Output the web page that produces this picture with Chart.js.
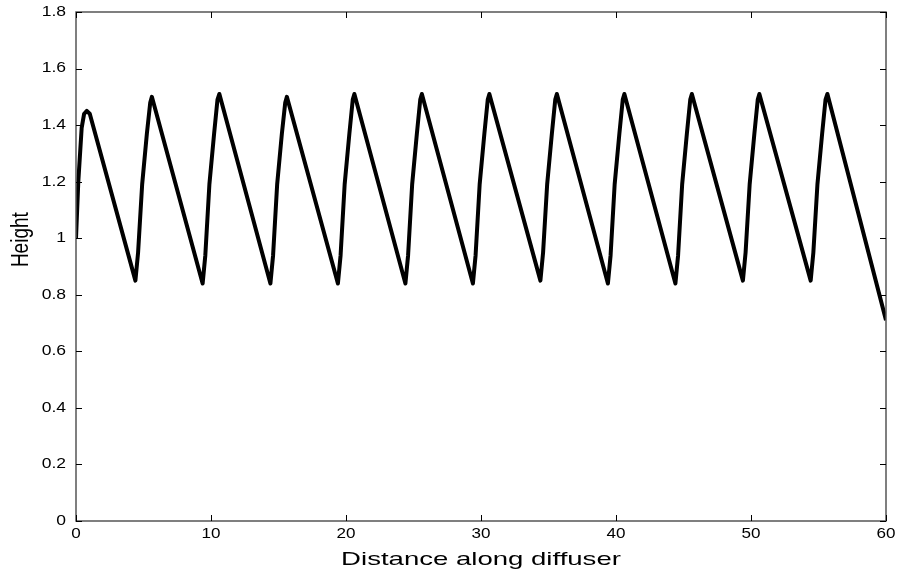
<!DOCTYPE html>
<html>
<head>
<meta charset="utf-8">
<script src="https://cdn.jsdelivr.net/npm/chart.js@4/dist/chart.umd.min.js"></script>
<style>
  html, body { margin: 0; padding: 0; background: #fff; }
  #wrap { width: 900px; height: 569px; }
</style>
</head>
<body>
<div id="wrap"><canvas id="diffuser"></canvas></div>
<script>
// distance along diffuser (x) and height (y)
distance = [0, 0.17, 0.42, 0.6, 0.8, 1.02,
  4.4, 4.6, 4.9, 5.25, 5.5, 5.62,
  9.38, 9.58, 9.88, 10.23, 10.48, 10.62,
  14.4, 14.6, 14.9, 15.25, 15.5, 15.62,
  19.4, 19.6, 19.9, 20.25, 20.5, 20.62,
  24.4, 24.6, 24.9, 25.25, 25.5, 25.62,
  29.4, 29.6, 29.9, 30.25, 30.5, 30.62,
  34.4, 34.6, 34.9, 35.25, 35.5, 35.62,
  39.4, 39.6, 39.9, 40.25, 40.5, 40.62,
  44.4, 44.6, 44.9, 45.25, 45.5, 45.62,
  49.4, 49.6, 49.9, 50.25, 50.5, 50.62,
  54.42, 54.62, 54.92, 55.27, 55.52, 55.66,
  60]
height = [1.0, 1.2, 1.39, 1.44, 1.45, 1.44,
  0.85, 0.95, 1.19, 1.37, 1.48, 1.50,
  0.84, 0.94, 1.19, 1.37, 1.49, 1.51,
  0.84, 0.94, 1.19, 1.37, 1.48, 1.50,
  0.84, 0.94, 1.19, 1.37, 1.49, 1.51,
  0.84, 0.94, 1.19, 1.37, 1.49, 1.51,
  0.84, 0.94, 1.19, 1.37, 1.49, 1.51,
  0.85, 0.95, 1.19, 1.37, 1.49, 1.51,
  0.84, 0.94, 1.19, 1.37, 1.49, 1.51,
  0.84, 0.94, 1.19, 1.37, 1.49, 1.51,
  0.85, 0.95, 1.19, 1.37, 1.49, 1.51,
  0.85, 0.95, 1.19, 1.37, 1.49, 1.51,
  0.71]

xTicks = [0, 10, 20, 30, 40, 50, 60]
yTicks = [0, 0.2, 0.4, 0.6, 0.8, 1, 1.2, 1.4, 1.6, 1.8]
xTitle = 'Distance along diffuser'
yTitle = 'Height'

points = distance.map((d, i) => ({x: d, y: height[i]}))

font = "'Liberation Sans', Arial, Helvetica, sans-serif"

// text in the original is drawn wide, so squash/stretch it a bit
function wideText(ctx, txt, x, y, sx, sy, align) {
  ctx.save()
  ctx.translate(x, y)
  ctx.scale(sx, sy)
  ctx.textAlign = align
  ctx.fillText(txt, 0, 0)
  ctx.restore()
}

// box, inward tick marks on all four sides, tick labels and titles
boxTicks = {
  id: 'boxTicks',
  afterDraw(chart) {
    var ctx = chart.ctx, a = chart.chartArea
    var xs = chart.scales.x, ys = chart.scales.y
    ctx.save()
    ctx.strokeStyle = '#555'
    ctx.lineWidth = 1.5
    ctx.strokeRect(a.left, a.top, a.right - a.left, a.bottom - a.top)
    ctx.strokeStyle = '#000'
    ctx.lineWidth = 1
    ctx.beginPath()
    xTicks.forEach(v => {
      var px = Math.round(xs.getPixelForValue(v)) + 0.5
      ctx.moveTo(px, a.bottom); ctx.lineTo(px, a.bottom - 6)
      ctx.moveTo(px, a.top); ctx.lineTo(px, a.top + 6)
    })
    yTicks.forEach(v => {
      var py = Math.round(ys.getPixelForValue(v)) + 0.5
      ctx.moveTo(a.left, py); ctx.lineTo(a.left + 6, py)
      ctx.moveTo(a.right, py); ctx.lineTo(a.right - 6, py)
    })
    ctx.stroke()

    ctx.fillStyle = '#000'
    ctx.textBaseline = 'middle'
    ctx.font = '14px ' + font
    xTicks.forEach(v => {
      wideText(ctx, String(v), xs.getPixelForValue(v), a.bottom + 13, 1.22, 1, 'center')
    })
    yTicks.forEach(v => {
      wideText(ctx, String(v), a.left - 10, ys.getPixelForValue(v), 1.25, 1, 'right')
    })

    ctx.font = '19px ' + font
    ctx.textBaseline = 'alphabetic'
    wideText(ctx, xTitle, (a.left + a.right) / 2, 565, 1.45, 1, 'center')

    // "Height" sits a bit above the middle in the original
    ctx.save()
    ctx.translate(28, ys.getPixelForValue(0.995))
    ctx.rotate(-Math.PI / 2)
    wideText(ctx, yTitle, 0, 0, 1, 1.3, 'center')
    ctx.restore()
    ctx.restore()
  }
}

chartdata = {
  datasets: [{
    label: 'Height',
    data: points,
    borderColor: '#000',
    borderWidth: 4,
    pointRadius: 0,
    tension: 0,
    borderJoinStyle: 'round',
    fill: false
  }]
}

config = {
  type: 'line',
  data: chartdata,
  options: {
    responsive: true,
    maintainAspectRatio: false,
    animation: false,
    layout: { padding: { top: 12, right: 14, left: 0, bottom: 0 } },
    plugins: { legend: { display: false }, tooltip: { enabled: false } },
    scales: {
      x: {
        type: 'linear',
        min: 0, max: 60,
        afterBuildTicks: s => { s.ticks = xTicks.map(v => ({value: v})) },
        afterFit: s => { s.height = 48; s.paddingLeft = 0; s.paddingRight = 0 },
        grid: { display: false, drawTicks: false },
        border: { display: false },
        ticks: { display: false }
      },
      y: {
        type: 'linear',
        min: 0, max: 1.8,
        afterBuildTicks: s => { s.ticks = yTicks.map(v => ({value: v})) },
        afterFit: s => { s.width = 76; s.paddingTop = 0; s.paddingBottom = 0 },
        grid: { display: false, drawTicks: false },
        border: { display: false },
        ticks: { display: false }
      }
    }
  },
  plugins: [boxTicks]
}

var myChart = new Chart(document.getElementById('diffuser'), config)
</script>
</body>
</html>
